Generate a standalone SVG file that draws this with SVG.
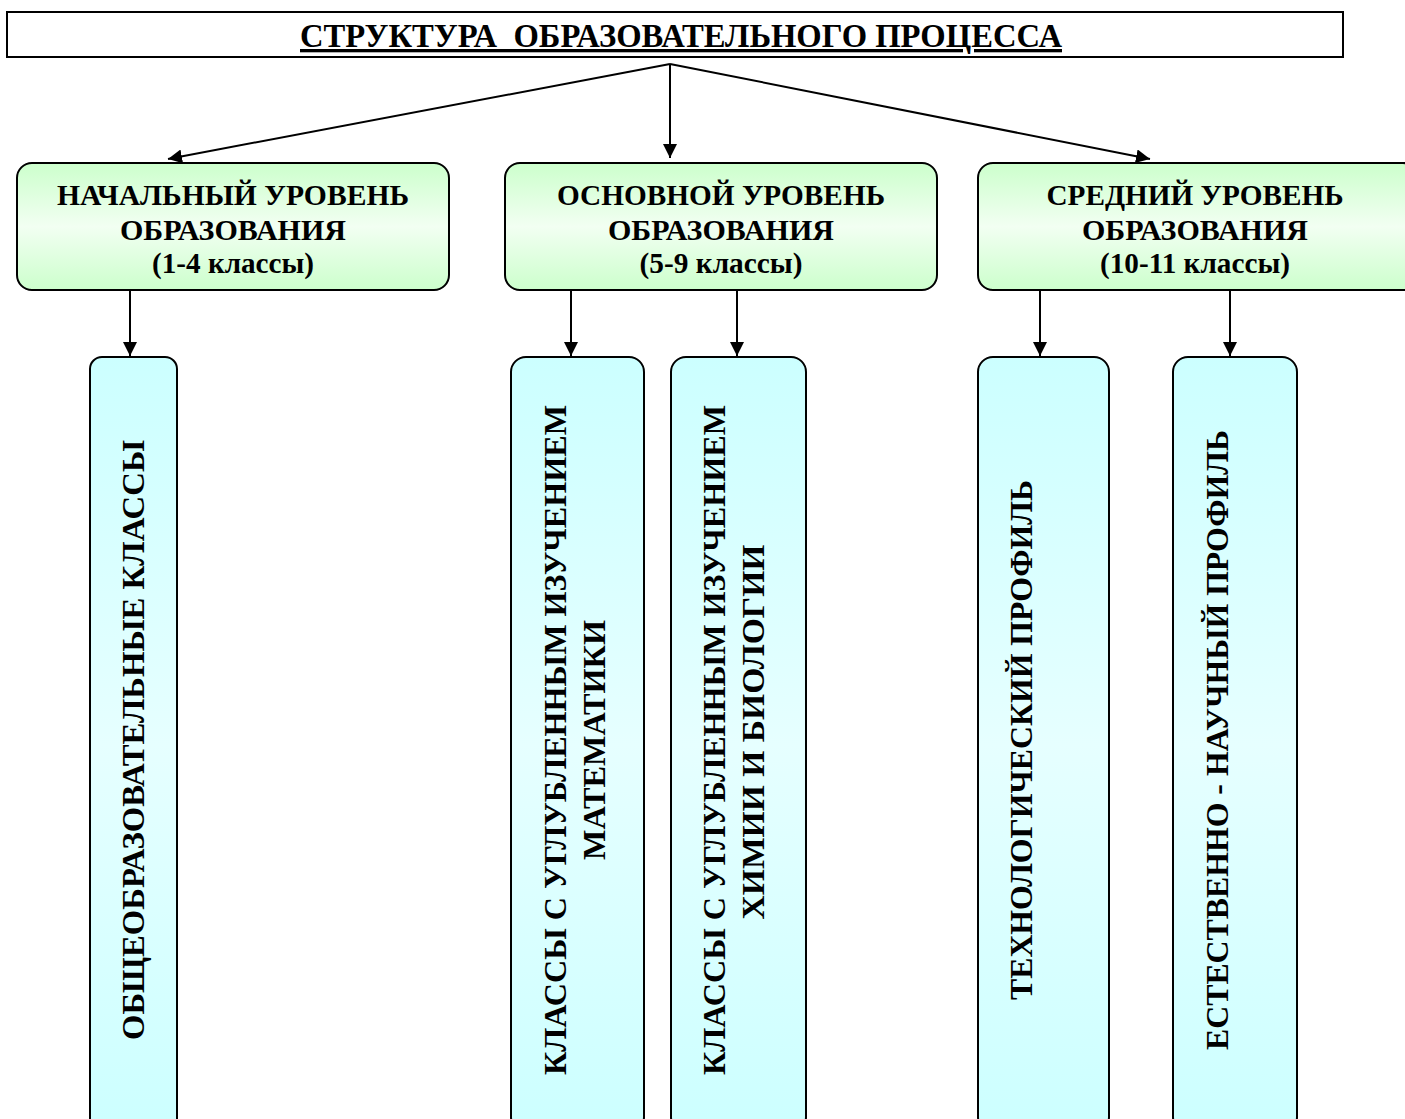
<svg xmlns="http://www.w3.org/2000/svg" width="1405" height="1119" viewBox="0 0 1405 1119">
<defs>
<linearGradient id="gGreen" x1="0" y1="0" x2="0" y2="1">
<stop offset="0" stop-color="#ccffcc"/>
<stop offset="0.5" stop-color="#f2fff2"/>
<stop offset="1" stop-color="#ccffcc"/>
</linearGradient>
<linearGradient id="gCyan" x1="0" y1="0" x2="0" y2="1">
<stop offset="0" stop-color="#ccffff"/>
<stop offset="0.5" stop-color="#e6ffff"/>
<stop offset="1" stop-color="#ccffff"/>
</linearGradient>
<marker id="arr" markerWidth="14" markerHeight="14" refX="14" refY="7" orient="auto" markerUnits="userSpaceOnUse">
<path d="M0,0 L14,7 L0,14 Z" fill="#000"/>
</marker>
<style>
.t{font-family:"Liberation Serif","Times New Roman",serif;font-weight:bold;fill:#000;text-anchor:middle}
.g{fill:url(#gGreen);stroke:#000;stroke-width:2}
.c{fill:url(#gCyan);stroke:#000;stroke-width:2}
.ln{stroke:#000;stroke-width:2;fill:none;marker-end:url(#arr)}
.h{font-size:29px}
.v{font-size:32px}
</style>
</defs>
<rect width="1405" height="1119" fill="#fff"/>
<g id="title">
<rect x="7" y="12" width="1336" height="45" fill="#fff" stroke="#000" stroke-width="2"/>
<text class="t" x="681" y="47" font-size="33" textLength="762" lengthAdjust="spacingAndGlyphs" text-decoration="underline">СТРУКТУРА&#160; ОБРАЗОВАТЕЛЬНОГО ПРОЦЕССА</text>
</g>
<g id="connectors">
<line class="ln" x1="670" y1="64" x2="168" y2="159"/>
<line class="ln" x1="670" y1="64" x2="670" y2="158"/>
<line class="ln" x1="670" y1="64" x2="1150" y2="159"/>
<line class="ln" x1="130" y1="290" x2="130" y2="356"/>
<line class="ln" x1="571" y1="290" x2="571" y2="356"/>
<line class="ln" x1="737" y1="290" x2="737" y2="356"/>
<line class="ln" x1="1040" y1="290" x2="1040" y2="356"/>
<line class="ln" x1="1230" y1="290" x2="1230" y2="356"/>
</g>
<g id="n-primary">
<rect class="g" x="17" y="163" width="432" height="127" rx="15"/>
<text class="t h" x="233" y="205" textLength="352" lengthAdjust="spacingAndGlyphs">НАЧАЛЬНЫЙ УРОВЕНЬ</text>
<text class="t h" x="233" y="240" textLength="226" lengthAdjust="spacingAndGlyphs">ОБРАЗОВАНИЯ</text>
<text class="t h" x="233" y="273" textLength="162" lengthAdjust="spacingAndGlyphs">(1-4 классы)</text>
</g>
<g id="n-basic">
<rect class="g" x="505" y="163" width="432" height="127" rx="15"/>
<text class="t h" x="721" y="205" textLength="328" lengthAdjust="spacingAndGlyphs">ОСНОВНОЙ УРОВЕНЬ</text>
<text class="t h" x="721" y="240" textLength="226" lengthAdjust="spacingAndGlyphs">ОБРАЗОВАНИЯ</text>
<text class="t h" x="721" y="273" textLength="163" lengthAdjust="spacingAndGlyphs">(5-9 классы)</text>
</g>
<g id="n-secondary">
<rect class="g" x="978" y="163" width="440" height="127" rx="15"/>
<text class="t h" x="1195" y="205" textLength="297" lengthAdjust="spacingAndGlyphs">СРЕДНИЙ УРОВЕНЬ</text>
<text class="t h" x="1195" y="240" textLength="226" lengthAdjust="spacingAndGlyphs">ОБРАЗОВАНИЯ</text>
<text class="t h" x="1195" y="273" textLength="190" lengthAdjust="spacingAndGlyphs">(10-11 классы)</text>
</g>
<g id="n-general">
<rect class="c" x="90" y="357" width="87" height="775" rx="12"/>
<text class="t v" transform="translate(144,740) rotate(-90)" textLength="600" lengthAdjust="spacingAndGlyphs">ОБЩЕОБРАЗОВАТЕЛЬНЫЕ КЛАССЫ</text>
</g>
<g id="n-math">
<rect class="c" x="511" y="357" width="133" height="775" rx="15"/>
<text class="t v" transform="translate(566,740) rotate(-90)" textLength="670" lengthAdjust="spacingAndGlyphs">КЛАССЫ С УГЛУБЛЕННЫМ ИЗУЧЕНИЕМ</text>
<text class="t v" transform="translate(605,740) rotate(-90)" textLength="240" lengthAdjust="spacingAndGlyphs">МАТЕМАТИКИ</text>
</g>
<g id="n-chembio">
<rect class="c" x="671" y="357" width="135" height="775" rx="15"/>
<text class="t v" transform="translate(725,740) rotate(-90)" textLength="670" lengthAdjust="spacingAndGlyphs">КЛАССЫ С УГЛУБЛЕННЫМ ИЗУЧЕНИЕМ</text>
<text class="t v" transform="translate(764,732) rotate(-90)" textLength="375" lengthAdjust="spacingAndGlyphs">ХИМИИ И БИОЛОГИИ</text>
</g>
<g id="n-tech">
<rect class="c" x="978" y="357" width="131" height="775" rx="15"/>
<text class="t v" transform="translate(1032,740) rotate(-90)" textLength="520" lengthAdjust="spacingAndGlyphs">ТЕХНОЛОГИЧЕСКИЙ ПРОФИЛЬ</text>
</g>
<g id="n-science">
<rect class="c" x="1173" y="357" width="124" height="775" rx="15"/>
<text class="t v" transform="translate(1228,740) rotate(-90)" textLength="620" lengthAdjust="spacingAndGlyphs">ЕСТЕСТВЕННО - НАУЧНЫЙ ПРОФИЛЬ</text>
</g>
</svg>
